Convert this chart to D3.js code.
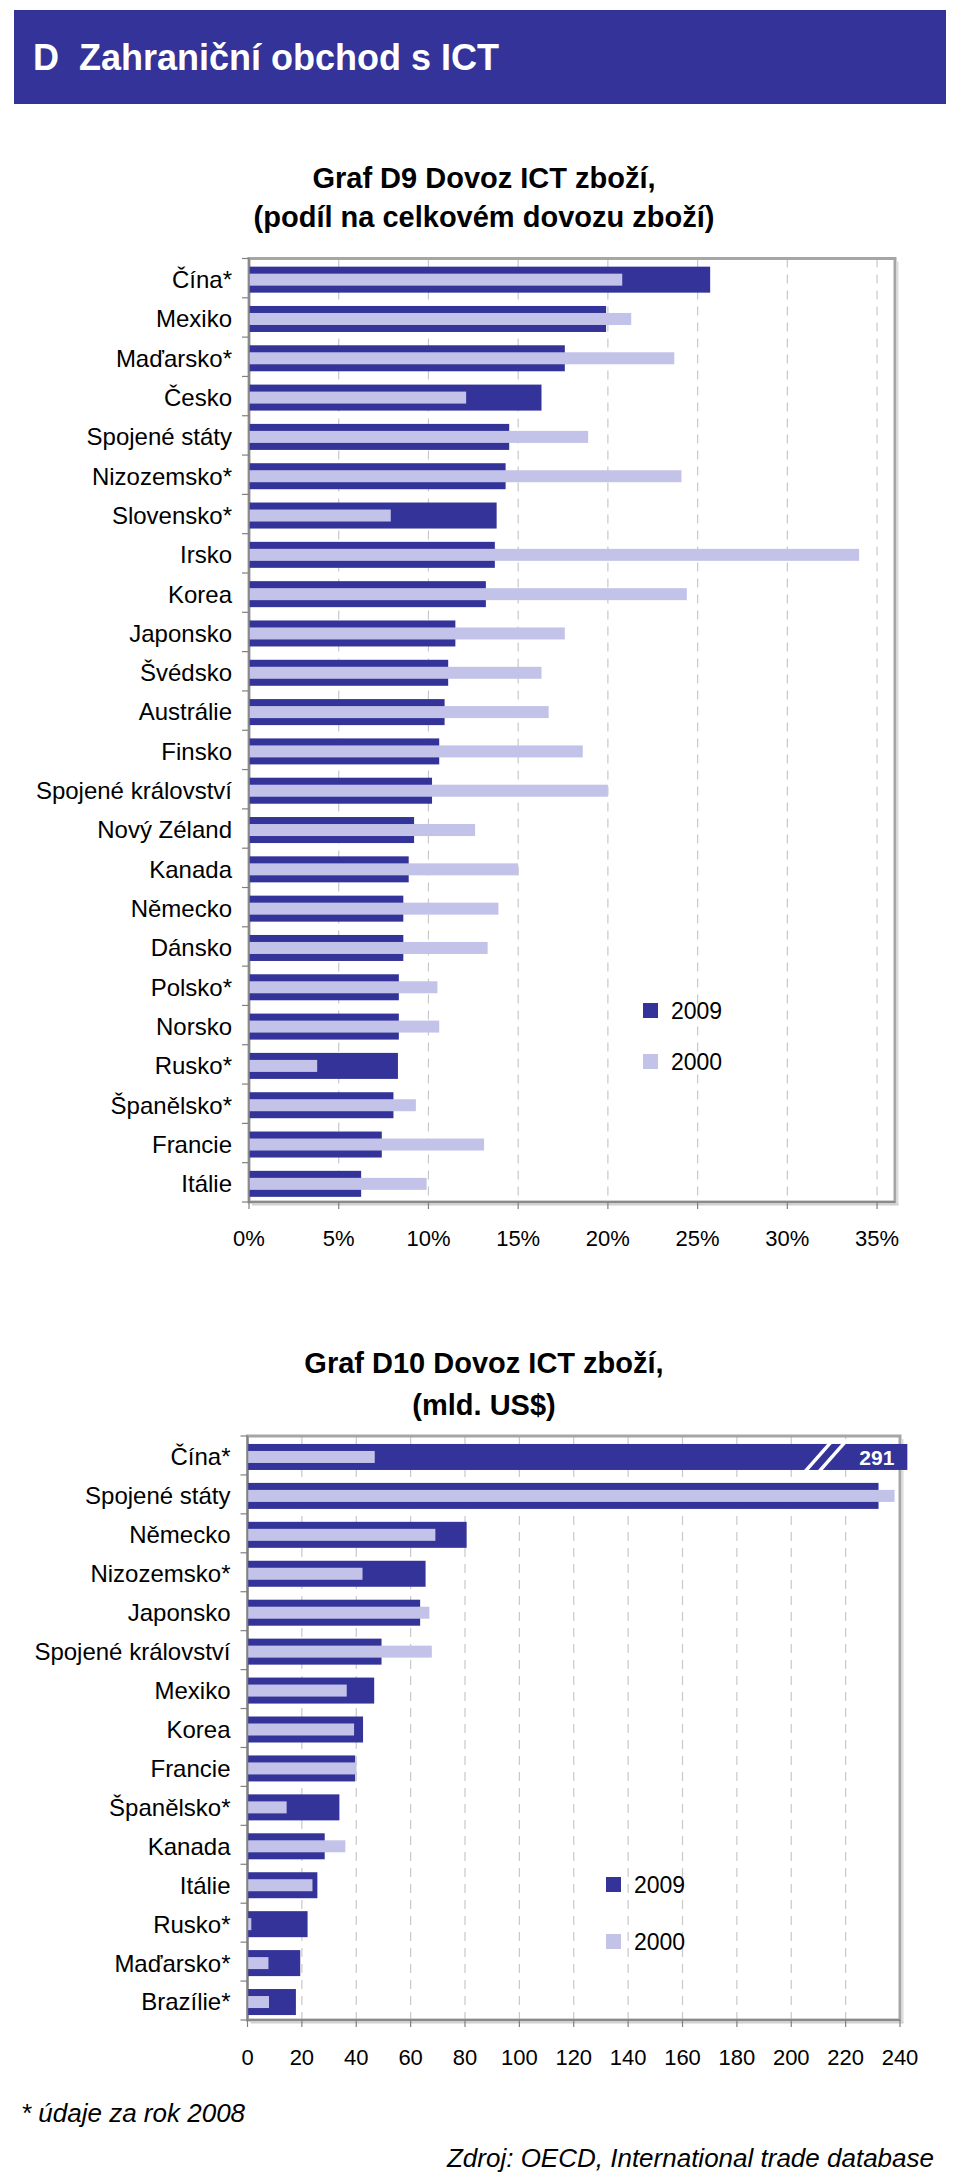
<!DOCTYPE html>
<html>
<head>
<meta charset="utf-8">
<script src="https://cdn.jsdelivr.net/npm/d3@7"></script>
<style>
  html, body { margin: 0; padding: 0; background: #ffffff; }
  svg { display: block; }
  text { font-family: "Liberation Sans", Arial, sans-serif; fill: #000; }
</style>
</head>
<body>
<svg id="chart" width="960" height="2172"></svg>
<script>
// ---------- DATA ----------
const pageTitle = "D  Zahraniční obchod s ICT";

// Chart D9: share of ICT goods in total imports (%)
const d9Title = ["Graf D9 Dovoz ICT zboží,", "(podíl na celkovém dovozu zboží)"];
const d9Categories = ["Čína*", "Mexiko", "Maďarsko*", "Česko", "Spojené státy", "Nizozemsko*",
  "Slovensko*", "Irsko", "Korea", "Japonsko", "Švédsko", "Austrálie", "Finsko",
  "Spojené království", "Nový Zéland", "Kanada", "Německo", "Dánsko", "Polsko*",
  "Norsko", "Rusko*", "Španělsko*", "Francie", "Itálie"];
const d9Values2009 = [25.7, 19.9, 17.6, 16.3, 14.5, 14.3, 13.8, 13.7, 13.2, 11.5, 11.1, 10.9, 10.6,
  10.2, 9.2, 8.9, 8.6, 8.6, 8.35, 8.35, 8.3, 8.05, 7.4, 6.25];
const d9Values2000 = [20.8, 21.3, 23.7, 12.1, 18.9, 24.1, 7.9, 34.0, 24.4, 17.6, 16.3, 16.7, 18.6,
  20.0, 12.6, 15.0, 13.9, 13.3, 10.5, 10.6, 3.8, 9.3, 13.1, 9.9];
const d9Ticks = [0, 5, 10, 15, 20, 25, 30, 35];

// Chart D10: ICT goods imports (bn US$)
const d10Title = ["Graf D10 Dovoz ICT zboží,", "(mld. US$)"];
const d10Categories = ["Čína*", "Spojené státy", "Německo", "Nizozemsko*", "Japonsko",
  "Spojené království", "Mexiko", "Korea", "Francie", "Španělsko*", "Kanada", "Itálie",
  "Rusko*", "Maďarsko*", "Brazílie*"];
const d10Values2009 = [291, 232.1, 80.6, 65.5, 63.5, 49.3, 46.6, 42.5, 39.6, 33.8, 28.4, 25.7, 22.1, 19.4, 17.8];
const d10Values2000 = [46.8, 238.0, 69.1, 42.3, 66.9, 67.8, 36.5, 39.2, 40.1, 14.4, 36.0, 23.9, 1.4, 7.7, 7.9];
const d10Ticks = [0, 20, 40, 60, 80, 100, 120, 140, 160, 180, 200, 220, 240];
const d10BreakLabel = "291";

const seriesNames = ["2009", "2000"];
const footnote = "* údaje za rok 2008";
const source = "Zdroj: OECD, International trade database";

// ---------- STYLE ----------
const DARK = "#333399";
const LIGHT = "#c3c3ea";
const svg = d3.select("#chart");

// Banner
svg.append("rect").attr("x", 14).attr("y", 10).attr("width", 932).attr("height", 94).attr("fill", DARK);
svg.append("text").attr("x", 33).attr("y", 57).attr("dy", "0.35em")
  .style("white-space", "pre").attr("xml:space", "preserve")
  .attr("font-size", 36).attr("font-weight", "bold").style("fill", "#fff").text(pageTitle);

function drawChart(cfg) {
  const g = svg.append("g");
  const x = d3.scaleLinear().domain(cfg.domain).range([cfg.left, cfg.right]);
  const y = d3.scaleBand().domain(cfg.categories).range([cfg.top, cfg.bottom]).padding(0);
  const bw = y.bandwidth();

  // titles
  cfg.title.forEach((t, i) => {
    g.append("text").attr("x", cfg.titleX).attr("y", cfg.titleY + i * cfg.titleGap)
      .attr("dy", "0.35em").attr("text-anchor", "middle")
      .attr("font-size", 29).attr("font-weight", "bold").text(t);
  });

  // gridlines
  g.selectAll(".grid").data(cfg.ticks.filter(t => t > 0 && x(t) < cfg.right - 4))
    .enter().append("line")
    .attr("x1", d => x(d)).attr("x2", d => x(d))
    .attr("y1", cfg.top).attr("y2", cfg.bottom)
    .attr("stroke", "#c8c8c8").attr("stroke-width", 1.2).attr("stroke-dasharray", "9,7");

  // plot frame (gray with shadow)
  g.append("rect").attr("x", cfg.left).attr("y", cfg.top).attr("width", cfg.right - cfg.left)
    .attr("height", cfg.bottom - cfg.top).attr("fill", "none")
    .attr("stroke", "#a6a6a6").attr("stroke-width", 3);
  g.append("line").attr("x1", cfg.right + 2.5).attr("x2", cfg.right + 2.5)
    .attr("y1", cfg.top + 3).attr("y2", cfg.bottom + 3).attr("stroke", "#dcdcdc").attr("stroke-width", 2);
  g.append("line").attr("x1", cfg.left + 3).attr("x2", cfg.right + 3.5)
    .attr("y1", cfg.bottom + 2.5).attr("y2", cfg.bottom + 2.5).attr("stroke", "#d0d0d0").attr("stroke-width", 2);

  const off = 1.5;
  // 2009 bars (wide)
  g.selectAll(".b9").data(cfg.categories).enter().append("rect")
    .attr("x", x(0))
    .attr("y", d => y(d) + bw / 2 + off - 13)
    .attr("height", 26)
    .attr("width", (d, i) => {
      const v = cfg.v2009[i];
      return (cfg.cap !== undefined && v > cfg.cap ? x(cfg.cap) : x(v)) - x(0);
    })
    .attr("fill", DARK);
  // 2000 bars (narrow, on top)
  g.selectAll(".b0").data(cfg.categories).enter().append("rect")
    .attr("x", x(0))
    .attr("y", d => y(d) + bw / 2 + off - 6)
    .attr("height", 12)
    .attr("width", (d, i) => x(cfg.v2000[i]) - x(0))
    .attr("fill", LIGHT);

  // broken bar decoration
  if (cfg.cap !== undefined) {
    cfg.v2009.forEach((v, i) => {
      if (v > cfg.cap) {
        const cy = y(cfg.categories[i]) + bw / 2 + off;
        [0, 14].forEach(dx => {
          g.append("line")
            .attr("x1", cfg.breakX + dx).attr("y1", cy + 17)
            .attr("x2", cfg.breakX + dx + 30).attr("y2", cy - 17)
            .attr("stroke", "#fff").attr("stroke-width", 3.5);
        });
        g.append("text").attr("x", x(cfg.cap) - 13).attr("y", cy + 1).attr("dy", "0.35em")
          .attr("text-anchor", "end").attr("font-size", 21).attr("font-weight", "bold")
          .style("fill", "#fff").text(cfg.breakLabel);
      }
    });
  }

  // y axis line + ticks
  g.append("line").attr("x1", cfg.left).attr("x2", cfg.left).attr("y1", cfg.top).attr("y2", cfg.bottom + 1)
    .attr("stroke", "#808080").attr("stroke-width", 1.5);
  const bounds = cfg.categories.map(c => y(c)).concat([cfg.bottom]);
  g.selectAll(".yt").data(bounds).enter().append("line")
    .attr("x1", cfg.left - 7).attr("x2", cfg.left).attr("y1", d => d).attr("y2", d => d)
    .attr("stroke", "#808080").attr("stroke-width", 1.2);
  // x axis line + ticks
  g.append("line").attr("x1", cfg.left).attr("x2", cfg.right).attr("y1", cfg.bottom).attr("y2", cfg.bottom)
    .attr("stroke", "#8a8a8a").attr("stroke-width", 2);
  g.selectAll(".xt").data(cfg.ticks).enter().append("line")
    .attr("x1", d => x(d)).attr("x2", d => x(d)).attr("y1", cfg.bottom).attr("y2", cfg.bottom + 7)
    .attr("stroke", "#808080").attr("stroke-width", 1.2);

  // category labels
  g.selectAll(".yl").data(cfg.categories).enter().append("text")
    .attr("x", cfg.left - 17).attr("y", d => y(d) + bw / 2 + off).attr("dy", "0.35em")
    .attr("text-anchor", "end").attr("font-size", 24).text(d => d);
  // tick labels
  g.selectAll(".xl").data(cfg.ticks).enter().append("text")
    .attr("x", d => x(d)).attr("y", cfg.tickLabelY).attr("dy", "0.35em")
    .attr("text-anchor", "middle").attr("font-size", 22).text(cfg.fmt);

  // legend
  [DARK, LIGHT].forEach((c, i) => {
    g.append("rect").attr("x", cfg.legX).attr("y", cfg.legY + i * cfg.legGap).attr("width", 15).attr("height", 15).attr("fill", c);
    g.append("text").attr("x", cfg.legX + 28).attr("y", cfg.legY + 8 + i * cfg.legGap).attr("dy", "0.35em")
      .attr("font-size", 23).text(seriesNames[i]);
  });
}

drawChart({
  title: d9Title, titleX: 484, titleY: 178, titleGap: 39,
  categories: d9Categories, v2009: d9Values2009, v2000: d9Values2000,
  domain: [0, 36], left: 249, right: 895, top: 258.5, bottom: 1202,
  ticks: d9Ticks, fmt: d => d + "%", tickLabelY: 1238,
  legX: 643, legY: 1003, legGap: 51
});

drawChart({
  title: d10Title, titleX: 484, titleY: 1363, titleGap: 42,
  categories: d10Categories, v2009: d10Values2009, v2000: d10Values2000,
  domain: [0, 240], left: 247.5, right: 900, top: 1436, bottom: 2020,
  ticks: d10Ticks, fmt: d => d, tickLabelY: 2057,
  legX: 606, legY: 1877, legGap: 57,
  cap: 242.7, breakX: 803, breakLabel: d10BreakLabel
});

// footnote & source
svg.append("text").attr("x", 21).attr("y", 2113).attr("dy", "0.35em")
  .attr("font-size", 26).attr("font-style", "italic").text(footnote);
svg.append("text").attr("x", 934).attr("y", 2158).attr("dy", "0.35em").attr("text-anchor", "end")
  .attr("font-size", 26).attr("font-style", "italic").text(source);
</script>
</body>
</html>
